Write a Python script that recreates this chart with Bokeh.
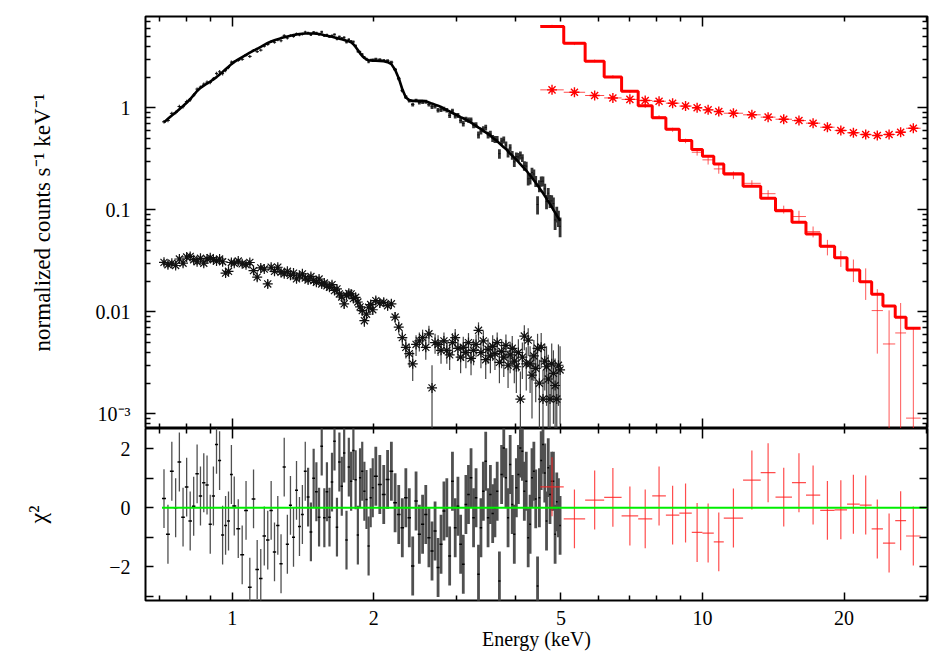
import numpy as np
from bokeh.plotting import figure
from bokeh.layouts import column
from bokeh.models import Range1d, FixedTicker, LogAxis, LinearAxis, CustomJSTickFormatter
from bokeh.embed import file_html
from bokeh.resources import INLINE

FONT = "Liberation Serif"

# ---------------- black instrument (0.7-5 keV) ----------------
black_E = [0.716, 0.730, 0.744, 0.758, 0.772, 0.786, 0.800, 0.814, 0.828, 0.842,
           0.856, 0.870, 0.884, 0.898, 0.912, 0.926, 0.940, 0.954, 0.968, 0.982, 0.996,
           1.01, 1.03, 1.05, 1.07, 1.09, 1.11, 1.13, 1.15, 1.17, 1.19,
           1.21, 1.23, 1.25, 1.27, 1.29, 1.31, 1.33, 1.35, 1.37, 1.39,
           1.41, 1.43, 1.45, 1.47, 1.49, 1.51, 1.53, 1.55, 1.57, 1.59,
           1.61, 1.63, 1.65, 1.67, 1.69, 1.71, 1.73, 1.75, 1.77, 1.79,
           1.81, 1.83, 1.85, 1.87, 1.89, 1.91, 1.93, 1.95, 1.97, 1.99,
           2.02, 2.06, 2.10, 2.14, 2.18, 2.22, 2.26, 2.30, 2.34, 2.38,
           2.42, 2.46, 2.50, 2.54, 2.58, 2.62, 2.66, 2.70, 2.74, 2.78,
           2.82, 2.86, 2.90, 2.94, 2.98, 3.02, 3.06, 3.10, 3.14, 3.18,
           3.22, 3.26, 3.30, 3.34, 3.38, 3.42, 3.46, 3.50, 3.54, 3.58,
           3.62, 3.66, 3.70, 3.74, 3.78, 3.82, 3.86, 3.90, 3.94, 3.98,
           4.02, 4.06, 4.10, 4.14, 4.18, 4.22, 4.26, 4.30, 4.34, 4.38,
           4.42, 4.46, 4.50, 4.54, 4.58, 4.62, 4.66, 4.70, 4.74, 4.78,
           4.82, 4.86, 4.90, 4.94, 4.98]
black_halfwidth = [0.007] * 21 + [0.010] * 50 + [0.020] * 75

black_model = [0.72, 0.78, 0.84, 0.90, 0.97, 1.04, 1.12, 1.22, 1.33, 1.46,
               1.57, 1.65, 1.73, 1.81, 1.90, 2.00, 2.12, 2.25, 2.39, 2.53, 2.68,
               2.82, 2.98, 3.14, 3.30, 3.47, 3.63, 3.79, 3.96, 4.14, 4.32,
               4.46, 4.59, 4.71, 4.82, 4.92, 5.01, 5.09, 5.16, 5.22, 5.28,
               5.32, 5.34, 5.35, 5.35, 5.34, 5.32, 5.28, 5.22, 5.15, 5.08,
               5.02, 4.96, 4.90, 4.83, 4.76, 4.69, 4.62, 4.55, 4.48, 4.38,
               4.20, 3.95, 3.68, 3.42, 3.22, 3.08, 2.98, 2.93, 2.91, 2.90,
               2.89, 2.88, 2.86, 2.80, 2.68, 2.36, 1.95, 1.52, 1.26, 1.19,
               1.17, 1.17, 1.17, 1.17, 1.16, 1.13, 1.10, 1.075, 1.05, 1.02,
               0.98, 0.95, 0.92, 0.89, 0.865, 0.84, 0.81, 0.79, 0.765, 0.74,
               0.715, 0.69, 0.665, 0.64, 0.62, 0.595, 0.575, 0.555, 0.535, 0.51,
               0.49, 0.47, 0.45, 0.43, 0.41, 0.395, 0.375, 0.355, 0.34, 0.325,
               0.31, 0.295, 0.28, 0.267, 0.255, 0.243, 0.23, 0.218, 0.206, 0.195,
               0.184, 0.174, 0.164, 0.155, 0.146, 0.137, 0.129, 0.121, 0.114, 0.107,
               0.100, 0.094, 0.088, 0.083, 0.078]

black_err = [0.029, 0.031, 0.034, 0.036, 0.039, 0.042, 0.045, 0.049, 0.053, 0.058,
             0.063, 0.066, 0.069, 0.072, 0.076, 0.080, 0.085, 0.090, 0.096, 0.101, 0.107,
             0.085, 0.089, 0.094, 0.099, 0.104, 0.109, 0.114, 0.119, 0.124, 0.130,
             0.134, 0.138, 0.141, 0.145, 0.148, 0.150, 0.153, 0.155, 0.157, 0.158,
             0.160, 0.160, 0.161, 0.161, 0.160, 0.160, 0.158, 0.157, 0.155, 0.152,
             0.151, 0.149, 0.147, 0.145, 0.143, 0.141, 0.139, 0.137, 0.134, 0.131,
             0.126, 0.119, 0.110, 0.103, 0.097, 0.092, 0.089, 0.088, 0.087, 0.087,
             0.101, 0.101, 0.100, 0.099, 0.095, 0.085, 0.072, 0.058, 0.049, 0.048,
             0.047, 0.048, 0.049, 0.050, 0.050, 0.050, 0.051, 0.050, 0.050, 0.050,
             0.049, 0.048, 0.048, 0.047, 0.048, 0.046, 0.047, 0.046, 0.046, 0.045,
             0.045, 0.044, 0.044, 0.043, 0.043, 0.042, 0.042, 0.041, 0.041, 0.040,
             0.039, 0.038, 0.038, 0.037, 0.037, 0.036, 0.036, 0.034, 0.034, 0.033,
             0.033, 0.031, 0.031, 0.029, 0.029, 0.028, 0.028, 0.026, 0.026, 0.024,
             0.024, 0.023, 0.023, 0.022, 0.021, 0.020, 0.019, 0.018, 0.018, 0.017,
             0.017, 0.016, 0.016, 0.015, 0.015]

black_resid = [0.31, -0.9, 1.24, 0.0, 1.55, -0.32, 0.7, -0.45, 0.05, 1.15,
               0.4, 0.85, 0.77, -0.56, 0.4, 2.15, 1.6, -0.93, -0.6, -0.45, 1.13,
               0.06, -0.71, -1.6, -0.09, -2.7, 0.3, -2.1, -2.4, -0.96, -1.1,
               -0.09, -1.5, -0.6, -1.9, 1.38, -1.24, 0.08, -1.0, 0.59, -0.64,
               -0.23, 1.24, 0.36, -0.82, 1.0, 0.54, -0.32, 2.09, -0.34, 0.54,
               -0.32, 0.87, 2.26, -0.66, 1.55, 0.73, 1.86, -1.1, 1.38, 0.9,
               1.94, 0.95, -0.93, 1.02, 1.24, 0.56, 0.28, -1.3, 0.34, 0.68,
               1.07, 0.79, 0.45, 0.96, 1.24, 0.17, -0.23, -0.68, 0.34, -0.34,
               -1.98, 0.23, -0.9, -0.56, -0.23, -1.02, -1.47, -0.79, -2.03, -1.24,
               -0.11, 0.0, -1.64, 0.9, -0.68, 0.05, -1.24, -1.92, 0.11, 0.45,
               1.02, -0.34, 0.34, -2.26, -0.68, 0.56, 1.58, -0.34, 0.45, -0.2,
               0.0, 0.56, -2.49, 1.13, 2.03, 1.02, -0.34, 1.47, 0.11, -0.9,
               0.68, 1.13, 2.03, 1.92, 0.56, 0.9, -1.02, -0.56, 1.02, 1.24,
               0.3, -2.66, 0.34, 1.6, 2.15, 1.18, -0.45, 1.36, 0.45, 0.9,
               0.9, -0.9, 0.2, 0.0, -0.6]

# black background-like spectrum (stars)
black_star = [0.0306, 0.0290, 0.0300, 0.0285, 0.0330, 0.0300, 0.0345, 0.0350, 0.0325, 0.0310,
              0.0335, 0.0300, 0.0330, 0.0340, 0.0325, 0.0315, 0.0330, 0.0310, 0.0240, 0.0250, 0.0305,
              0.0300, 0.0315, 0.0296, 0.0290, 0.0305, 0.0254, 0.0219, 0.0270, 0.0263, 0.0188,
              0.0274, 0.0250, 0.0274, 0.0245, 0.0236, 0.0250, 0.0228, 0.0240, 0.0211, 0.0225,
              0.0236, 0.0215, 0.0205, 0.0222, 0.0203, 0.0195, 0.0210, 0.0188, 0.0192, 0.0180,
              0.0174, 0.0185, 0.0162, 0.0168, 0.0150, 0.0140, 0.0120, 0.0145, 0.0152, 0.0150,
              0.0135, 0.0139, 0.0125, 0.0112, 0.0103, 0.0082, 0.0095, 0.0111, 0.0118, 0.0105,
              0.0129, 0.0122, 0.0124, 0.0115, 0.0120, 0.0089, 0.0071, 0.0056, 0.0045, 0.0039,
              0.0031, 0.0048, 0.0052, 0.0056, 0.0045, 0.0061, 0.0018, 0.0050, 0.0048, 0.0042,
              0.0052, 0.0042, 0.0038, 0.0050, 0.0056, 0.0044, 0.0036, 0.0045, 0.0040, 0.0050,
              0.0035, 0.0042, 0.0048, 0.0066, 0.0040, 0.0052, 0.0034, 0.0043, 0.0037, 0.0046,
              0.0039, 0.0050, 0.0032, 0.0041, 0.0036, 0.0047, 0.0030, 0.0038, 0.0044, 0.0033,
              0.0029, 0.0040, 0.0014, 0.0036, 0.0058, 0.0031, 0.0053, 0.0031, 0.0024, 0.0037,
              0.0028, 0.0044, 0.0020, 0.0045, 0.0014, 0.0033, 0.0029, 0.0022, 0.0014, 0.0031,
              0.0025, 0.0019, 0.0014, 0.0030, 0.0027]
black_star_err = [0.0024, 0.0023, 0.0023, 0.0022, 0.0024, 0.0022, 0.0024, 0.0024, 0.0023, 0.0022,
                  0.0023, 0.0022, 0.0023, 0.0023, 0.0022, 0.0022, 0.0023, 0.0022, 0.0020, 0.0020, 0.0022,
                  0.0020, 0.0021, 0.0020, 0.0020, 0.0020, 0.0019, 0.0018, 0.0019, 0.0019, 0.0017,
                  0.0019, 0.0018, 0.0019, 0.0018, 0.0018, 0.0018, 0.0017, 0.0018, 0.0017, 0.0017,
                  0.0017, 0.0016, 0.0016, 0.0017, 0.0016, 0.0016, 0.0016, 0.0015, 0.0015, 0.0015,
                  0.0015, 0.0015, 0.0014, 0.0014, 0.0014, 0.0013, 0.0013, 0.0014, 0.0014, 0.0014,
                  0.0013, 0.0013, 0.0013, 0.0012, 0.0012, 0.0011, 0.0012, 0.0012, 0.0012, 0.0012,
                  0.0012, 0.0012, 0.0012, 0.0012, 0.0012, 0.0011, 0.0010, 0.0010, 0.0010, 0.0010,
                  0.0010, 0.0011, 0.0011, 0.0011, 0.0011, 0.0012, 0.0012, 0.0011, 0.0011, 0.0011,
                  0.0011, 0.0011, 0.0011, 0.0012, 0.0012, 0.0011, 0.0011, 0.0012, 0.0012, 0.0012,
                  0.0011, 0.0012, 0.0012, 0.0013, 0.0012, 0.0013, 0.0012, 0.0012, 0.0012, 0.0013,
                  0.0012, 0.0013, 0.0012, 0.0013, 0.0013, 0.0013, 0.0012, 0.0013, 0.0014, 0.0013,
                  0.0013, 0.0014, 0.0012, 0.0014, 0.0016, 0.0014, 0.0016, 0.0015, 0.0015, 0.0016,
                  0.0015, 0.0017, 0.0014, 0.0017, 0.0013, 0.0016, 0.0017, 0.0016, 0.0014, 0.0018,
                  0.0017, 0.0016, 0.0014, 0.0018, 0.0019]

# ---------------- red instrument (4.5-29 keV) ----------------
red_edges = [4.52, 5.07, 5.63, 6.18, 6.73, 7.30, 7.82, 8.36, 8.93, 9.49, 10.0, 10.57, 11.1,
             12.2, 13.3, 14.3, 15.5, 16.6, 17.8, 19.1, 20.3, 21.6, 22.9, 24.2, 25.7, 27.1, 29.1]
red_model = [6.27, 4.30, 2.86, 2.00, 1.45, 1.05, 0.80, 0.617, 0.478, 0.39, 0.336, 0.282, 0.226,
             0.170, 0.130, 0.098, 0.0756, 0.058, 0.044, 0.0339, 0.0258, 0.0197, 0.0149, 0.0114,
             0.00885, 0.0069]
red_data = [6.37, 4.25, 2.88, 2.02, 1.44, 1.035, 0.813, 0.610, 0.474, 0.367, 0.309, 0.252, 0.219,
            0.182, 0.144, 0.101, 0.0860, 0.0612, 0.0433, 0.0336, 0.0261, 0.0199, 0.0103, 0.00485,
            0.00622, 0.00091]
red_err = [0.14, 0.13, 0.09, 0.07, 0.05, 0.04, 0.033, 0.028, 0.024, 0.027, 0.031, 0.026, 0.019,
           0.013, 0.012, 0.009, 0.012, 0.0075, 0.0075, 0.006, 0.0065, 0.0068, 0.0064, 0.0055,
           0.0060, 0.0062]
red_resid = [0.71, -0.38, 0.26, 0.35, -0.28, -0.38, 0.40, -0.25, -0.18, -0.84, -0.86, -1.16, -0.35,
             0.94, 1.19, 0.36, 0.85, 0.43, -0.09, -0.07, 0.12, 0.09, -0.72, -1.2, -0.44, -0.96]
red_star = [1.50, 1.42, 1.32, 1.25, 1.21, 1.18, 1.16, 1.11, 1.04, 1.00, 0.955, 0.92, 0.885,
            0.854, 0.81, 0.773, 0.75, 0.707, 0.645, 0.60, 0.57, 0.548, 0.535, 0.548, 0.577, 0.63]
red_star_err = [0.035, 0.033, 0.031, 0.030, 0.029, 0.028, 0.028, 0.027, 0.026, 0.025, 0.025, 0.024,
                0.022, 0.022, 0.021, 0.021, 0.021, 0.020, 0.020, 0.019, 0.019, 0.019, 0.019, 0.020,
                0.021, 0.023]

# axis ticks / labels
x_major_long = [1, 10]
x_minor = [0.7, 0.8, 0.9, 2, 3, 4, 5, 6, 7, 8, 9, 20, 30]
x_labeled = [1, 2, 5, 10, 20]
x_labeled_minor = [0.7, 0.8, 0.9, 3, 4, 6, 7, 8, 9, 30]
y_major = [0.001, 0.01, 0.1, 1]
y_minor = [0.0008, 0.0009] + [k * 0.001 for k in range(2, 10)] + [k * 0.01 for k in range(2, 10)] \
          + [k * 0.1 for k in range(2, 10)] + [2, 3, 4, 5, 6, 7]
res_ticks = [-3, -2, -1, 0, 1, 2]

# ---------------- arrays ----------------
E = np.array(black_E)
HW = np.array(black_halfwidth)
bm = np.array(black_model)
be = np.array(black_err)
br = np.array(black_resid)
bd = bm + br * be
bs = np.array(black_star)
bse = np.array(black_star_err)
# thicker strokes where the bins are packed tightly (dense region of the plot)
lw_bars = np.where(E < 1.45, 1.3, np.where(E < 2.0, 2.2, 2.8))

redge = np.array(red_edges)
rlo, rhi = redge[:-1], redge[1:]
rc = np.sqrt(rlo * rhi)
rm = np.array(red_model)
rd = np.array(red_data)
re_ = np.array(red_err)
rr = np.array(red_resid)
rs = np.array(red_star)
rse = np.array(red_star_err)

FLOOR = 1e-5

xr = Range1d(0.654, 30.1)

def style_axis(ax, major, minor, tin, tmin, labels):
    ax.ticker = FixedTicker(ticks=major, minor_ticks=minor)
    ax.major_tick_in = tin
    ax.major_tick_out = 0
    ax.minor_tick_in = tmin
    ax.minor_tick_out = 0
    ax.major_tick_line_color = "black"
    ax.minor_tick_line_color = "black"
    ax.major_tick_line_width = 1.5
    ax.minor_tick_line_width = 1.5
    ax.axis_line_color = None
    ax.major_label_text_font = FONT
    ax.major_label_text_font_size = "20px"
    ax.major_label_text_color = "black"
    ax.axis_label_text_font = FONT
    ax.axis_label_text_font_style = "normal"
    ax.axis_label_text_color = "black"
    if not labels:
        ax.major_label_text_font_size = "1px"
        ax.major_label_text_color = None
        ax.major_label_standoff = 0

# ---------------- top panel ----------------
p1 = figure(x_axis_type="log", y_axis_type="log", x_range=xr, y_range=Range1d(7.2e-4, 7.85),
            frame_width=782, frame_height=412, min_border_left=145, min_border_right=5,
            min_border_top=16, min_border_bottom=0, output_backend="svg", toolbar_location=None,
            background_fill_color="white", border_fill_color="white")
p1.grid.visible = False
p1.outline_line_color = "black"
p1.outline_line_width = 2

style_axis(p1.xaxis[0], x_major_long, x_minor, 10, 5, False)
ax_top = LogAxis()
style_axis(ax_top, x_major_long, x_minor, 10, 5, False)
p1.add_layout(ax_top, "above")

yl = p1.yaxis[0]
style_axis(yl, y_major, y_minor, 10, 5, True)
yl.formatter = CustomJSTickFormatter(code="""
if (tick < 0.002) return "10\u207b\u00b3";
if (tick < 0.02) return "0.01";
if (tick < 0.2) return "0.1";
return "1";
""")
yl.major_label_standoff = 15
yl.axis_label = "normalized counts s\u207b\u00b9 keV\u207b\u00b9"
yl.axis_label_text_font_size = "23px"
yl.axis_label_standoff = 38
ax_r1 = LogAxis()
style_axis(ax_r1, y_major, y_minor, 10, 5, False)
p1.add_layout(ax_r1, "right")

# black spectrum crosses
p1.segment(E, np.maximum(bd - be, FLOOR), E, bd + be, line_color="#333333", line_width=lw_bars)
p1.segment(E - HW, bd, E + HW, bd, line_color="#111111", line_width=1)
# black background stars
p1.segment(E, np.maximum(bs - bse, FLOOR), E, bs + bse, line_color="#444444", line_width=1.2)
p1.segment(E - HW, bs, E + HW, bs, line_color="#222222", line_width=1)
p1.scatter(E, bs, marker="asterisk", size=10, line_color="#111111", line_width=1.2)
# black model
p1.line(E, bm, line_color="black", line_width=2.6)

# red crosses
p1.segment(rc, np.maximum(rd - re_, FLOOR), rc, rd + re_, line_color="#ff2020", line_alpha=0.75, line_width=1)
p1.segment(rlo, rd, rhi, rd, line_color="#ff2020", line_alpha=0.75, line_width=1)
# red stars
p1.segment(rlo, rs, rhi, rs, line_color="#ff2020", line_alpha=0.8, line_width=1)
p1.segment(rc, rs - rse, rc, rs + rse, line_color="#ff2020", line_alpha=0.8, line_width=1)
p1.scatter(rc, rs, marker="asterisk", size=10, line_color="#ff0000", line_width=1.4)
# red step model
sx, sy = [], []
for lo, hi, m in zip(rlo, rhi, rm):
    sx += [lo, hi]
    sy += [m, m]
p1.line(sx, sy, line_color="#ff0000", line_width=3)

# ---------------- residual panel ----------------
p2 = figure(x_axis_type="log", x_range=xr, y_range=Range1d(-3.15, 2.69),
            frame_width=782, frame_height=172, min_border_left=145, min_border_right=5,
            min_border_top=0, min_border_bottom=0, output_backend="svg", toolbar_location=None,
            background_fill_color="white", border_fill_color="white")
p2.grid.visible = False
p2.outline_line_color = "black"
p2.outline_line_width = 2

xb = p2.xaxis[0]
style_axis(xb, x_labeled, x_labeled_minor, 8, 5, True)
xb.major_label_standoff = 10
xb.axis_label = "Energy (keV)"
xb.axis_label_text_font_size = "20px"
xb.axis_label_standoff = 0
ax_top2 = LogAxis()
style_axis(ax_top2, x_major_long, x_minor, 10, 5, False)
p2.add_layout(ax_top2, "above")

yl2 = p2.yaxis[0]
style_axis(yl2, res_ticks, [], 8, 0, True)
yl2.formatter = CustomJSTickFormatter(code="""
if (Math.abs(tick) % 2 == 1) return " ";
if (tick < 0) return "\u2212" + Math.abs(tick);
return "" + tick;
""")
yl2.major_label_standoff = 15
yl2.axis_label = "\u03c7\u00b2"
yl2.axis_label_text_font_size = "24px"
yl2.axis_label_standoff = 55
ax_r2 = LinearAxis()
style_axis(ax_r2, res_ticks, [], 8, 0, False)
p2.add_layout(ax_r2, "right")

p2.segment(E, br - 1, E, br + 1, line_color="#505050", line_width=lw_bars)
p2.segment(E - HW, br, E + HW, br, line_color="black", line_width=1.5)
p2.segment(rc, rr - 1, rc, rr + 1, line_color="#ff2020", line_alpha=0.8, line_width=1.2)
p2.segment(rlo, rr, rhi, rr, line_color="#ff2020", line_alpha=0.8, line_width=1.2)
p2.line([E[0] - HW[0], xr.end], [0, 0], line_color="#00ee00", line_width=2)

layout = column(p1, p2, spacing=0)
open("out.html", "w").write(file_html(layout, INLINE))
